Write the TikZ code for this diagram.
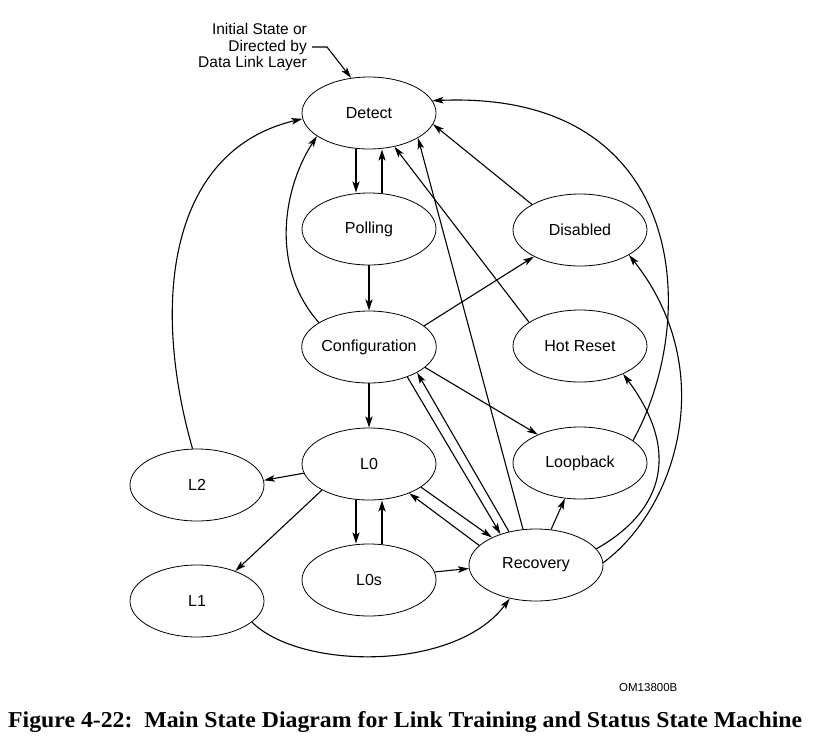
\documentclass[tikz,border=0pt]{standalone}
\usepackage{fontspec}
\setmainfont{Liberation Sans}
\newfontfamily\capfont{Liberation Serif}
\usetikzlibrary{arrows.meta,shapes.geometric}
\begin{document}
\begin{tikzpicture}[x=1pt,y=-1pt,
  st/.style={draw, ellipse, line width=0.8pt, minimum width=134pt, minimum height=72pt, inner sep=0pt, font=\fontsize{16}{19}\selectfont},
  arr/.style={line width=1.1pt, -{Stealth[length=11pt,width=6.5pt,inset=2.5pt]}},
  thk/.style={line width=2pt, -{Stealth[length=11pt,width=7pt,inset=2.5pt]}}]
\useasboundingbox (0,0) rectangle (813,736);
\node[st] (detect) at (369,113) {Detect};
\node[st] (polling) at (369,229) {Polling};
\node[st] (config) at (369,347) {Configuration};
\node[st] (lzero) at (369,464) {L0};
\node[st] (lzeros) at (369,580) {L0s};
\node[st] (disabled) at (580,230) {Disabled};
\node[st] (hotreset) at (580,346) {Hot Reset};
\node[st] (loopback) at (580,463) {Loopback};
\node[st] (recovery) at (536,565) {Recovery};
\node[st] (ltwo) at (197,485) {L2};
\node[st] (lone) at (197,601) {L1};
\node[align=right, anchor=east, inner sep=0pt, font=\fontsize{15.5}{16.5}\selectfont] (init) at (307,47) {Initial State or\\Directed by\\Data Link Layer};
\coordinate (ia) at (312,47);
\coordinate (ib) at (327,47);
\node[anchor=base west, inner sep=0pt, font=\fontsize{11.5}{12}\selectfont] (om) at (619,691) {OM13800B};
\node[anchor=base west, inner sep=0pt] (cap) at (8,727) {\resizebox{794pt}{16pt}{\capfont\bfseries Figure 4-22:\ \ Main State Diagram for Link Training and Status State Machine}};
% initial arrow
\draw[arr] (ia) -- (ib) -- (detect.117);
% thick vertical arrows
\draw[thk] ([xshift=-13pt]detect.south) -- ([xshift=-13pt]polling.north);
\draw[thk] ([xshift=13pt]polling.north) -- ([xshift=13pt]detect.south);
\draw[thk] (polling) -- (config);
\draw[thk] (config) -- (lzero);
\draw[thk] ([xshift=-13pt]lzero.south) -- ([xshift=-13pt]lzeros.north);
\draw[thk] ([xshift=13pt]lzeros.north) -- ([xshift=13pt]lzero.south);
% straight thin arrows
\draw[arr] (disabled.152) -- (detect.350);
\draw[arr] (hotreset.155) -- (detect.307);
\draw[arr] (recovery.110) -- (detect.333);
\draw[arr] (config.21) -- (disabled.210);
\draw[arr] (config.340) -- (loopback.146);
\draw[arr] (config.322) -- (recovery.139);
\draw[arr] (recovery.129) -- (config.332);
\draw[arr] (lzero.336) -- (recovery.148);
\draw[arr] (recovery.161) -- (lzero.324);
\draw[arr] (lzeros.7) -- (recovery.183);
\draw[arr] (recovery.67) -- (loopback.247);
\draw[arr] (lzero.188) -- (ltwo.4);
\draw[arr] (lzero.209) -- (lone.38);
% curved arrows
\draw[arr] (config.154) .. controls (268,265) and (285,185) .. (detect.204);
\draw[arr] (ltwo.97) .. controls (150,300) and (170,150) .. (detect.185);
\draw[arr] (lone.339) .. controls (300,670) and (455,672) .. (recovery.232);
\draw[arr] (recovery.15) .. controls (665,510) and (680,450) .. (hotreset.327);
\draw[arr] (recovery.2) .. controls (677,508) and (720,370) .. (disabled.333);
\draw[arr] (loopback.23) .. controls (700,320) and (690,90) .. (detect.11);
\end{tikzpicture}
\end{document}
